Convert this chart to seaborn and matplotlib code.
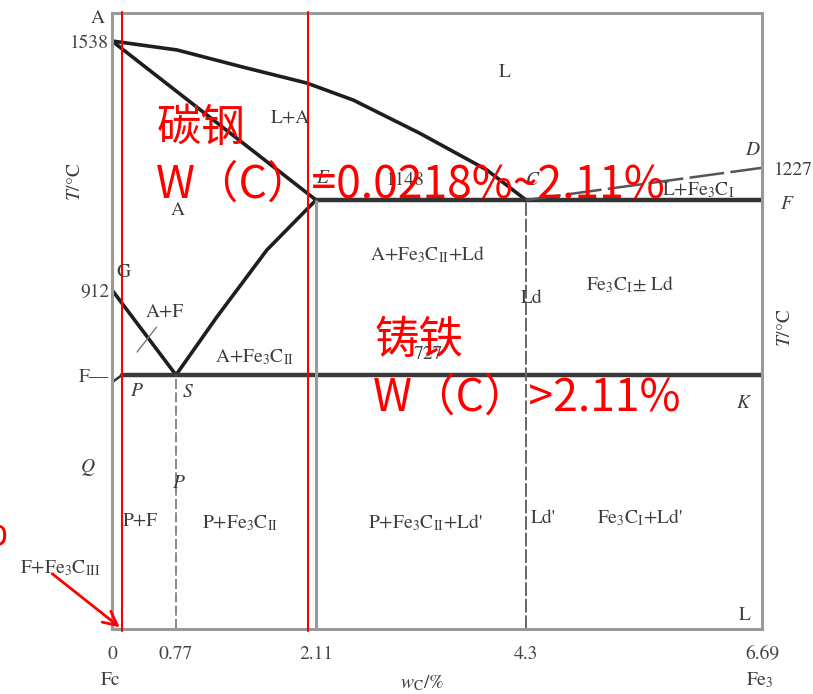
import numpy as np
import pandas as pd
import seaborn as sns
import matplotlib.pyplot as plt

W, H = 813, 694

# carbon content (wt%) and temperature (degC) of the phase lines
liquidus_c = [0, 0.78, 1.41, 2.02, 2.50, 3.19, 3.89, 4.3]
liquidus_t = [1538, 1516, 1474, 1435, 1393, 1312, 1222, 1148]
cd_c = [4.3, 6.69]
cd_t = [1148, 1227]
solidus_c = [0, 2.11]
solidus_t = [1538, 1148]
es_c = [0.77, 1.16, 1.64, 2.11]
es_t = [727, 853, 1017, 1148]
gs_c = [0, 0.77]
gs_t = [912, 727]
gpq_c = [0, 0.0218, 0]
gpq_t = [912, 727, 500]
ecf_c = [2.11, 6.69]
ecf_t = [1148, 1148]
psk_c = [0.0218, 6.69]
psk_t = [727, 727]
leader_c = [0.23, 0.50]
leader_t = [777, 831]

vert_c = [0.77, 2.11, 4.3]
vert_top = [727, 1148, 1148]
red_c = [0.0218, 2.03]

tick_c = [0, 0.77, 2.11, 4.3, 6.69]
tick_labels = ["0", "0.77", "2.11", "4.3", "6.69"]
ytick_t = [727, 912, 1538]
ytick_labels = ["F\u2014", "912", "1538"]

# the drawing is schematic: piecewise axis scales
c_knots = [-1, 0, 0.0218, 0.77, 2.11, 4.3, 6.69, 8]
c_pix = [-100, 0, 10, 64, 204, 414, 650, 780]
t_knots = [-500, 0, 727, 912, 1148, 1538, 1610, 3000]
t_pix = [-175, 0, 254, 339, 429, 588, 616, 1160]

sns.set_theme(style="white")
plt.rcParams["mathtext.fontset"] = "stix"
plt.rcParams["font.family"] = ["STIXGeneral", "DejaVu Sans"]

fig = plt.figure(figsize=(W / 100, H / 100), dpi=100)
ax = fig.add_axes([112 / W, (H - 629) / H, 650 / W, 616 / H])


def px(x, y):
    return x / W, 1 - y / H


rows = []
for name, cs, ts in [("liq", liquidus_c, liquidus_t), ("sol", solidus_c, solidus_t),
                     ("es", es_c, es_t), ("gs", gs_c, gs_t)]:
    rows += [(name, c, t) for c, t in zip(cs, ts)]
curves = pd.DataFrame(rows, columns=["seg", "c", "t"])

sns.lineplot(data=curves, x="c", y="t", units="seg", estimator=None, sort=False,
             color="#1e1e1e", lw=2.6, ax=ax)
sns.lineplot(x=ecf_c, y=ecf_t, color="#333333", lw=3.2, ax=ax)
sns.lineplot(x=psk_c, y=psk_t, color="#3a3a3a", lw=3.2, ax=ax)
sns.lineplot(x=cd_c, y=cd_t, sort=False, color="#555555", lw=1.8, ax=ax)
ax.lines[-1].set_dashes([14, 2.5])
sns.lineplot(x=gpq_c, y=gpq_t, sort=False, color="#333333", lw=1.8, ax=ax)
sns.lineplot(x=leader_c, y=leader_t, color="#777777", lw=1.0, ax=ax)

ax.vlines(vert_c[0], 0, vert_top[0], color="#777777", lw=1.2, linestyles=(0, (6, 2)))
ax.vlines(vert_c[1], 0, vert_top[1], color="#999999", lw=2.2)
ax.vlines(vert_c[2], 0, vert_top[2], color="#666666", lw=1.4, linestyles=(0, (7, 1.5)))

fwd = lambda v: np.interp(v, c_knots, c_pix)
inv = lambda v: np.interp(v, c_pix, c_knots)
ax.set_xscale("function", functions=(fwd, inv))
fwd_t = lambda v: np.interp(v, t_knots, t_pix)
inv_t = lambda v: np.interp(v, t_pix, t_knots)
ax.set_yscale("function", functions=(fwd_t, inv_t))
ax.set_xlim(0, 6.69)
ax.set_ylim(0, 1610)

ax.set_xticks(tick_c, labels=tick_labels)
ax.set_yticks(ytick_t, labels=ytick_labels)
ax.tick_params(axis="x", length=0, pad=12, labelsize=14, labelcolor="#444444")
ax.tick_params(axis="y", length=0, pad=2, labelsize=14, labelcolor="#444444")
ax.set_xlabel("")
ax.set_ylabel("")
for sp in ax.spines.values():
    sp.set_color("#9a9a9a")
    sp.set_linewidth(2.2)

for c in red_c:
    ax.axvline(c, ymin=-0.003, ymax=1.002, color="red", lw=1.5, clip_on=False, zorder=5)

# phase region labels (picture pixels)
gray = "#3c3c3c"
labels = [
    (98, 18, "A", False), (505, 72, "L", False), (290, 118, "L+A", False),
    (178, 210, "A", False), (322, 178, "E", True), (405, 180, "1148", False),
    (532, 180, "C", True), (698, 190, r"L+Fe$_3$C$_\mathrm{I}$", False),
    (752, 150, "D", True), (793, 170, "1227", False), (787, 204, "F", True),
    (428, 255, r"A+Fe$_3$C$_\mathrm{II}$+Ld", False), (532, 298, "Ld", False),
    (630, 285, r"Fe$_3$C$_\mathrm{I}$$\pm$ Ld", False), (123, 272, "G", False),
    (165, 312, "A+F", False), (255, 357, r"A+Fe$_3$C$_\mathrm{II}$", False),
    (428, 354, "727", False), (137, 391, "P", True), (188, 392, "S", True),
    (743, 403, "K", True), (88, 467, "Q", True), (179, 483, "P", True),
    (140, 521, "P+F", False), (240, 523, r"P+Fe$_3$C$_\mathrm{II}$", False),
    (425, 523, r"P+Fe$_3$C$_\mathrm{II}$+Ld'", False), (543, 518, "Ld'", False),
    (640, 518, r"Fe$_3$C$_\mathrm{I}$+Ld'", False),
    (60, 568, r"F+Fe$_3$C$_\mathrm{III}$", False), (745, 615, "L", False),
    (111, 680, "Fc", False), (422, 683, r"$w_\mathrm{C}$/%", False),
    (760, 680, r"Fe$_3$", False),
]
for x, y, s, it in labels:
    fig.text(*px(x, y), s, ha="center", va="center", fontsize=14, color=gray,
             style="italic" if it else "normal")
fig.text(*px(75, 182), r"$T$/°C", rotation=90, ha="center", va="center", fontsize=14, color=gray)
fig.text(*px(785, 328), r"$T$/°C", rotation=90, ha="center", va="center", fontsize=14, color=gray)

# red annotations
cjk = ["Noto Sans CJK SC", "DejaVu Sans"]
red_texts = [
    (157, 128, "碳钢"), (156, 185, "W（C）=0.0218%~2.11%"),
    (374, 340, "铸铁"), (373, 398, "W（C）>2.11%"),
]
for x, y, s in red_texts:
    fig.text(*px(x, y), s, ha="left", va="center", fontsize=32, color="red",
             family=cjk, zorder=10)
fig.text(*px(7, 532), "%", ha="right", va="center", fontsize=32, color="red", family=cjk)
ax.annotate("", xy=(red_c[0], 0), xycoords="data", xytext=px(50, 572),
            textcoords="figure fraction", annotation_clip=False,
            arrowprops=dict(arrowstyle="->", color="red", lw=2, mutation_scale=25))

fig.savefig("out.png", dpi=100)
